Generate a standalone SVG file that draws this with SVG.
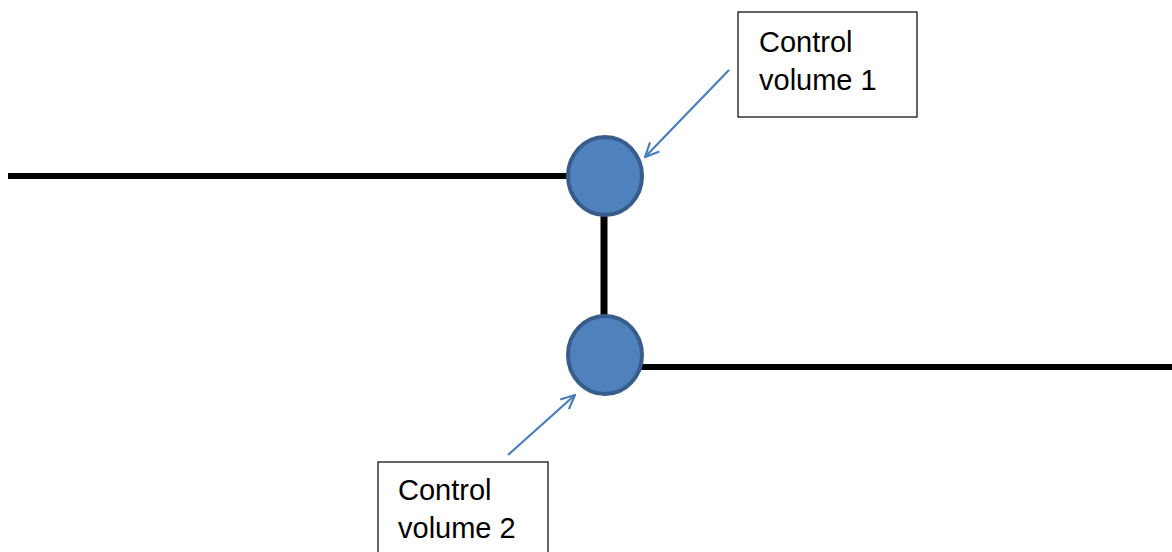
<svg xmlns="http://www.w3.org/2000/svg" width="1172" height="552" viewBox="0 0 1172 552">
<style>
.pipe{stroke:#000;stroke-width:6;fill:none}
.cv{fill:#4f81bd;stroke:#385d8a;stroke-width:4}
.box{fill:#fff;stroke:#000;stroke-width:1.2}
.lbl{font-family:"Liberation Sans",Arial,sans-serif;font-size:29px;fill:#000}
.ptr{stroke:#4a7ebb;stroke-width:2.2;fill:none}
</style>
<defs>
<marker id="open" viewBox="0 0 16 16" refX="15" refY="8" markerWidth="16" markerHeight="16" markerUnits="userSpaceOnUse" orient="auto">
<path d="M1,1.5 L15,8 L1,14.5" fill="none" stroke="#4a7ebb" stroke-width="2.2"/>
</marker>
</defs>
<rect width="1172" height="552" fill="#fff"/>
<g id="connectors">
<line class="pipe" x1="8" y1="176" x2="570" y2="176"/>
<line class="pipe" x1="640" y1="367" x2="1172" y2="367"/>
<line class="pipe" x1="604" y1="214" x2="604" y2="318" style="stroke-width:7"/>
<line class="ptr" x1="729" y1="70" x2="645" y2="157" marker-end="url(#open)"/>
<line class="ptr" x1="508" y1="455" x2="575" y2="395" marker-end="url(#open)"/>
</g>
<g id="cv1"><ellipse class="cv" cx="605" cy="176" rx="37" ry="39"/></g>
<g id="cv2"><ellipse class="cv" cx="605" cy="355" rx="37" ry="39"/></g>
<g id="label1">
<rect class="box" x="738" y="12" width="179" height="105"/>
<text class="lbl" x="759" y="52">Control</text>
<text class="lbl" x="759" y="90">volume 1</text>
</g>
<g id="label2">
<rect class="box" x="378" y="462" width="170" height="100"/>
<text class="lbl" x="398" y="500">Control</text>
<text class="lbl" x="398" y="538">volume 2</text>
</g>
</svg>
